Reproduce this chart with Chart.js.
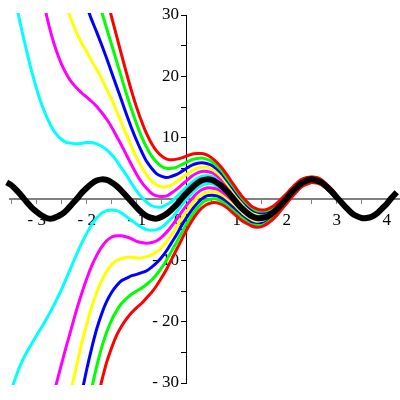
<!DOCTYPE html>
<html>
<head>
<meta charset="utf-8">
<script src="https://cdn.jsdelivr.net/npm/chart.js@4"></script>
<style>
  html, body { margin: 0; padding: 0; background: #fff; }
</style>
</head>
<body>
<canvas id="plot" width="400" height="400"></canvas>
<script>
/* solution family around the periodic curve */

// sample positions along x
const xs = [
  -3.7,-3.6,-3.5,-3.4,-3.3,-3.2,-3.1,-3.0,-2.9,-2.8,
  -2.7,-2.6,-2.5,-2.4,-2.3,-2.2,-2.1,-2.0,-1.9,-1.8,
  -1.7,-1.6,-1.5,-1.4,-1.3,-1.2,-1.1,-1.0,-0.9,-0.8,
  -0.7,-0.6,-0.5,-0.4,-0.3,-0.2,-0.1,0.0,0.1,0.2,
  0.3,0.4,0.5,0.6,0.7,0.8,0.9,1.0,1.1,1.2,
  1.3,1.4,1.5,1.6,1.7,1.8,1.9,2.0,2.1,2.2,
  2.3,2.4,2.5,2.6,2.7,2.8,2.9,3.0,3.1,3.2,
  3.3,3.4,3.5,3.6,3.7,3.8,3.9,4.0,4.1,4.2
];

// thick black periodic curve
const black = [
  3.1,2.7,2.2,1.4,0.5,-0.5,-1.4,-2.1,-2.7,-3.1,
  -3.2,-2.9,-2.5,-1.8,-0.9,0.0,1.0,1.8,2.5,3.0,
  3.2,3.1,2.7,2.1,1.3,0.4,-0.5,-1.4,-2.2,-2.8,
  -3.1,-3.2,-2.9,-2.4,-1.7,-0.9,0.1,1.0,1.8,2.5,
  3.0,3.2,3.1,2.7,2.1,1.3,0.4,-0.6,-1.5,-2.2,
  -2.8,-3.1,-3.1,-2.9,-2.4,-1.7,-0.8,0.1,1.1,1.9,
  2.6,3.0,3.2,3.0,2.7,2.0,1.2,0.3,-0.6,-1.5,
  -2.3,-2.8,-3.1,-3.1,-2.9,-2.4,-1.6,-0.8,0.2,1.1
];

// coloured curves, x = -3.7 .. 3.0 (null = off the top/bottom)
const cyanUp = [null,null,null,31.3,27.6,24.1,20.8,17.9,15.4,13.4,
  11.7,10.5,9.7,9.2,9.1,9.0,9.1,9.2,9.2,9.0,
  8.6,8.0,7.2,6.2,5.0,3.8,2.5,1.3,0.3,-0.5,
  -1.1,-1.3,-1.3,-0.9,-0.4,0.4,1.2,2.0,2.7,3.3,
  3.7,3.8,3.7,3.2,2.6,1.7,0.8,-0.2,-1.1,-1.9,
  -2.5,-2.9,-2.9,-2.7,-2.2,-1.5,-0.7,0.3,1.2,2.0,
  2.7,3.1,3.2,3.1,2.7,2.1,1.3,0.4];
const cyanDown = [null,null,-31.0,-28.6,-26.6,-25.0,-23.6,-22.2,-20.9,-19.5,
  -18.0,-16.4,-14.7,-12.8,-10.9,-9.0,-7.2,-5.6,-4.2,-3.1,
  -2.3,-1.9,-1.8,-1.9,-2.3,-2.9,-3.5,-4.1,-4.6,-5.0,
  -5.1,-5.0,-4.6,-3.9,-3.1,-2.1,-1.0,0.0,0.9,1.7,
  2.2,2.5,2.5,2.1,1.6,0.8,0.0,-0.9,-1.8,-2.5,
  -3.1,-3.3,-3.4,-3.1,-2.6,-1.8,-1.0,0.0,0.9,1.8,
  2.5,2.9,3.1,3.0,2.6,2.0,1.2,0.3];
const magentaUp = [null,null,null,null,null,null,null,null,33.6,29.8,
  26.6,24.0,21.9,20.3,19.0,18.1,17.3,16.6,15.9,15.1,
  14.1,13.0,11.7,10.2,8.7,7.1,5.5,4.0,2.7,1.7,
  0.9,0.5,0.4,0.5,1.0,1.6,2.3,3.0,3.7,4.2,
  4.5,4.5,4.3,3.8,3.1,2.2,1.2,0.2,-0.8,-1.6,
  -2.2,-2.6,-2.7,-2.5,-2.0,-1.4,-0.5,0.4,1.3,2.1,
  2.8,3.2,3.3,3.2,2.8,2.2,1.4,0.4];
const magentaDown = [null,null,null,null,null,null,null,null,null,null,
  -32.9,-29.9,-26.8,-23.8,-20.9,-18.0,-15.4,-13.0,-10.9,-9.2,
  -7.8,-6.8,-6.2,-6.0,-6.0,-6.2,-6.5,-6.9,-7.1,-7.2,
  -7.1,-6.8,-6.2,-5.4,-4.4,-3.3,-2.1,-1.0,0.0,0.9,
  1.5,1.8,1.8,1.6,1.1,0.4,-0.4,-1.3,-2.1,-2.8,
  -3.3,-3.6,-3.6,-3.3,-2.8,-2.0,-1.1,-0.1,0.8,1.7,
  2.4,2.8,3.0,2.9,2.5,1.9,1.1,0.2];
const yellowUp = [null,null,null,null,null,null,null,null,null,null,
  null,null,null,31.3,29.0,27.1,25.4,24.0,22.5,21.1,
  19.6,17.9,16.2,14.3,12.3,10.4,8.5,6.7,5.2,3.9,
  2.9,2.3,2.0,2.0,2.3,2.8,3.4,4.0,4.6,5.0,
  5.2,5.2,4.9,4.3,3.6,2.6,1.6,0.5,-0.5,-1.3,
  -2.0,-2.4,-2.5,-2.3,-1.9,-1.2,-0.4,0.5,1.4,2.2,
  2.9,3.3,3.4,3.3,2.9,2.2,1.4,0.5];
const yellowDown = [null,null,null,null,null,null,null,null,null,null,
  null,null,null,-34.9,-30.8,-27.1,-23.5,-20.4,-17.6,-15.2,
  -13.3,-11.8,-10.7,-10.0,-9.7,-9.5,-9.5,-9.6,-9.6,-9.4,
  -9.1,-8.6,-7.9,-6.9,-5.8,-4.5,-3.2,-2.0,-0.9,0.1,
  0.7,1.1,1.2,1.1,0.6,-0.1,-0.8,-1.7,-2.5,-3.1,
  -3.6,-3.8,-3.8,-3.5,-3.0,-2.2,-1.3,-0.3,0.7,1.6,
  2.3,2.7,2.9,2.8,2.5,1.9,1.1,0.2];
const blueUp = [null,null,null,null,null,null,null,null,null,null,
  null,null,null,null,null,null,null,31.4,29.2,27.2,
  25.1,22.9,20.6,18.3,16.0,13.7,11.5,9.5,7.7,6.1,
  5.0,4.1,3.7,3.5,3.7,4.0,4.5,5.0,5.5,5.8,
  5.9,5.8,5.5,4.9,4.1,3.1,2.0,0.9,-0.1,-1.0,
  -1.7,-2.1,-2.3,-2.1,-1.7,-1.0,-0.2,0.7,1.5,2.3,
  3.0,3.4,3.5,3.3,2.9,2.3,1.5,0.5];
const blueDown = [null,null,null,null,null,null,null,null,null,null,
  null,null,null,null,null,null,-31.7,-27.8,-24.3,-21.2,
  -18.7,-16.7,-15.2,-14.1,-13.3,-12.9,-12.5,-12.3,-12.0,-11.7,
  -11.1,-10.4,-9.5,-8.4,-7.1,-5.8,-4.3,-3.0,-1.8,-0.8,
  0.0,0.5,0.6,0.5,0.1,-0.5,-1.2,-2.0,-2.8,-3.4,
  -3.9,-4.1,-4.0,-3.7,-3.1,-2.3,-1.4,-0.4,0.6,1.4,
  2.2,2.6,2.8,2.8,2.4,1.8,1.0,0.1];
const greenUp = [null,null,null,null,null,null,null,null,null,null,
  null,null,null,null,null,null,null,null,null,33.2,
  30.5,27.8,25.1,22.4,19.7,17.0,14.5,12.2,10.1,8.4,
  7.0,6.0,5.3,5.0,5.0,5.2,5.6,6.0,6.4,6.6,
  6.7,6.5,6.1,5.4,4.6,3.5,2.4,1.3,0.2,-0.7,
  -1.4,-1.9,-2.0,-1.9,-1.5,-0.9,-0.1,0.8,1.7,2.4,
  3.1,3.4,3.6,3.4,3.0,2.3,1.5,0.6];
const greenDown = [null,null,null,null,null,null,null,null,null,null,
  null,null,null,null,null,null,null,-35.1,-30.9,-27.3,
  -24.2,-21.7,-19.7,-18.2,-17.0,-16.2,-15.5,-15.0,-14.5,-13.9,
  -13.2,-12.3,-11.2,-9.9,-8.5,-7.0,-5.5,-4.0,-2.7,-1.6,
  -0.7,-0.2,0.0,0.0,-0.4,-1.0,-1.7,-2.4,-3.1,-3.7,
  -4.2,-4.3,-4.3,-3.9,-3.3,-2.5,-1.6,-0.6,0.4,1.3,
  2.1,2.5,2.8,2.7,2.3,1.7,1.0,0.1];
const redUp = [null,null,null,null,null,null,null,null,null,null,
  null,null,null,null,null,null,null,null,null,null,
  null,32.8,29.6,26.5,23.4,20.4,17.5,14.9,12.6,10.6,
  9.0,7.8,7.0,6.5,6.4,6.5,6.7,7.0,7.3,7.4,
  7.4,7.2,6.7,6.0,5.1,4.0,2.8,1.6,0.5,-0.4,
  -1.2,-1.6,-1.8,-1.7,-1.3,-0.7,0.1,0.9,1.8,2.6,
  3.2,3.5,3.6,3.5,3.1,2.4,1.6,0.6];
const redDown = [null,null,null,null,null,null,null,null,null,null,
  null,null,null,null,null,null,null,null,null,-33.3,
  -29.7,-26.6,-24.2,-22.2,-20.7,-19.5,-18.5,-17.7,-17.0,-16.1,
  -15.2,-14.1,-12.8,-11.4,-9.8,-8.2,-6.6,-5.0,-3.6,-2.4,
  -1.5,-0.9,-0.6,-0.6,-0.9,-1.4,-2.1,-2.8,-3.5,-4.0,
  -4.4,-4.6,-4.5,-4.1,-3.5,-2.7,-1.7,-0.7,0.3,1.2,
  2.0,2.4,2.7,2.6,2.3,1.7,0.9,0.0];

// axis ticks (minor + major)
const xTicks = [-3.5,-3,-2.5,-2,-1.5,-1,-0.5,0,0.5,1,1.5,2,2.5,3,3.5,4];
const yTicks = [-30,-25,-20,-15,-10,-5,0,5,10,15,20,25,30];

const fmt = v => (v < 0 ? "- " : "") + Math.abs(v);
const pts = ys => ys.map((y, i) => ({x: xs[i], y}));
const curve = (ys, color, w) => ({
  data: pts(ys), borderColor: color, borderWidth: w,
  pointRadius: 0, tension: 0.3, fill: false,
  clip: {left: 5, right: 0, top: 2, bottom: 2}
});

const font = {family: "'Liberation Serif', 'DejaVu Serif', serif", size: 17};

new Chart(document.getElementById("plot"), {
  type: "line",
  data: {
    datasets: [
      curve(black, "#000000", 6),
      curve(redUp, "#ff0000", 3), curve(redDown, "#ff0000", 3),
      curve(greenUp, "#00ff00", 3), curve(greenDown, "#00ff00", 3),
      curve(blueUp, "#0000ff", 3), curve(blueDown, "#0000ff", 3),
      curve(yellowUp, "#ffff00", 3), curve(yellowDown, "#ffff00", 3),
      curve(magentaUp, "#ff00ff", 3), curve(magentaDown, "#ff00ff", 3),
      curve(cyanUp, "#00ffff", 3), curve(cyanDown, "#00ffff", 3)
    ]
  },
  options: {
    responsive: false,
    animation: false,
    layout: {padding: {top: 15, bottom: 17, left: 10, right: 0}},
    plugins: {legend: {display: false}, tooltip: {enabled: false}},
    scales: {
      x: {
        type: "linear", min: -3.534, max: 4.266,
        position: {y: 0}, z: 1,
        afterBuildTicks: ax => { ax.ticks = xTicks.map(v => ({value: v})); },
        ticks: {
          autoSkip: false, maxRotation: 0, color: "#000", font, padding: 7,
          callback: v => v === 0 ? "0\u2003" : (Number.isInteger(v) ? fmt(v) : "")
        },
        grid: {drawOnChartArea: false, tickLength: 4, tickColor: "#808080"},
        border: {color: "#808080", width: 2}
      },
      y: {
        type: "linear", min: -30, max: 30,
        position: {x: 0}, z: 1,
        afterBuildTicks: ax => { ax.ticks = yTicks.map(v => ({value: v})); },
        ticks: {
          autoSkip: false, color: "#000", font, padding: 2,
          callback: v => (v % 10 === 0 && v !== 0) ? fmt(v) + " \u2009" : ""
        },
        grid: {drawOnChartArea: false, tickLength: 5, tickColor: "#000"},
        border: {color: "#000", width: 1}
      }
    }
  }
});
</script>
</body>
</html>
